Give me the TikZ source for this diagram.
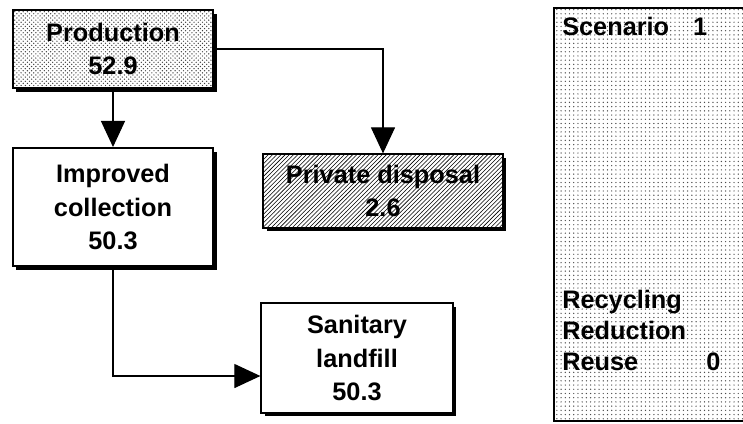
\documentclass[tikz,border=0pt]{standalone}
\usepackage{fontspec}
\setmainfont{Liberation Sans}
\usetikzlibrary{arrows.meta,patterns,shadows}

\begin{document}
\begin{tikzpicture}[x=0.025cm,y=-0.025cm,>={Triangle[length=0.65cm,width=0.6cm]},
  font=\fontsize{18}{24}\selectfont\bfseries,
  box/.style={draw,line width=1.4pt,align=center,
    drop shadow={shadow xshift=2.5pt,shadow yshift=-2.5pt,fill=black,opacity=1},
    preaction={fill=white}},
  flow/.style={line width=0.8pt,->},
  lbl/.style={anchor=base west,inner sep=0pt}]
\useasboundingbox (0,0) rectangle (743,423);
\clip (0,0) rectangle (743,423);
% flow boxes
\node[box,pattern=crosshatch dots,pattern color=black!75,minimum width=5cm,minimum height=1.95cm] (prod) at (113,49) {Production\\52.9};
\node[box,minimum width=5cm,minimum height=2.95cm] (imp) at (113,207) {Improved\\collection\\50.3};
\node[box,pattern=north east lines,minimum width=5.98cm,minimum height=1.83cm] (priv) at (383,191) {Private disposal\\2.6};
\node[box,minimum width=4.78cm,minimum height=2.73cm] (san) at (357,358) {Sanitary\\landfill\\50.3};
\draw[flow] (prod) -- (imp);
\draw[flow] (prod.east) -| (priv.north);
\draw[flow] (imp.south) |- ([yshift=-0.45cm]san.west);
% scenario panel
\node[draw,line width=1.4pt,pattern=dots,pattern color=black!70,minimum width=5.5cm,minimum height=10.33cm,anchor=north west] (scen) at (553,7) {};
\node[lbl] (title) at (562,35) {Scenario\hspace{0.6cm}1};
\node[lbl] (recy) at (562,308) {Recycling};
\node[lbl] (redu) at (562,339) {Reduction};
\node[lbl] (reuse) at (562,370) {Reuse};
\node[lbl] (reusev) at (706,370) {0};
\end{tikzpicture}
\end{document}
